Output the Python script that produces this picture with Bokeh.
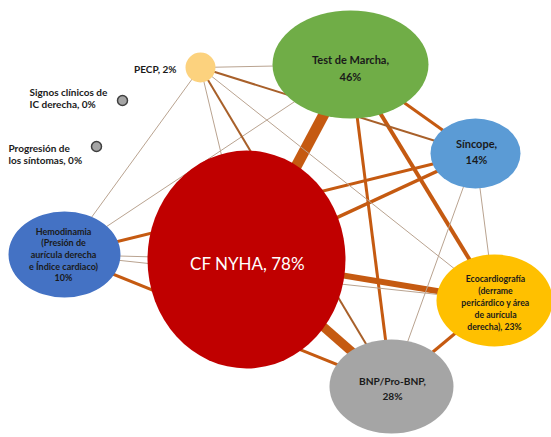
from bokeh.plotting import figure
from bokeh.models import Range1d, ColumnDataSource
from bokeh.embed import file_html
from bokeh.resources import INLINE
from bokeh.core.properties import value

# ---------------- data ----------------
node_names = ["CF NYHA", "Test de Marcha", "Síncope", "Ecocardiografía",
              "BNP/Pro-BNP", "Hemodinamia", "PECP", "Signos clínicos", "Progresión"]
node_pct = [78, 46, 14, 23, 28, 10, 2, 0, 0]
node_label_lines = [
    ["CF NYHA, 78%"],
    ["Test de Marcha,", "46%"],
    ["Síncope,", "14%"],
    ["Ecocardiografía", "(derrame", "pericárdico y área", "de aurícula", "derecha),  23%"],
    ["BNP/Pro-BNP,", "28%"],
    ["Hemodinamia", "(Presión de", "aurícula derecha", "e Índice cardiaco)", "10%"],
    ["PECP, 2%"],
    ["Signos clínicos de", "IC derecha, 0%"],
    ["Progresión de", "los síntomas, 0%"],
]
# edges: source, target, strength
edge_src = ["CF NYHA", "CF NYHA", "CF NYHA", "CF NYHA", "CF NYHA", "CF NYHA",
            "Test de Marcha", "Test de Marcha", "Test de Marcha", "Test de Marcha", "Test de Marcha",
            "Síncope", "Síncope", "Síncope", "Síncope",
            "Ecocardiografía", "Ecocardiografía", "Ecocardiografía",
            "BNP/Pro-BNP", "BNP/Pro-BNP", "Hemodinamia"]
edge_dst = ["Test de Marcha", "BNP/Pro-BNP", "Ecocardiografía", "Síncope", "Hemodinamia", "PECP",
            "Síncope", "Ecocardiografía", "BNP/Pro-BNP", "Hemodinamia", "PECP",
            "Ecocardiografía", "BNP/Pro-BNP", "Hemodinamia", "PECP",
            "BNP/Pro-BNP", "PECP", "Hemodinamia",
            "Hemodinamia", "PECP", "PECP"]
edge_strength = [11, 9, 6, 3.5, 1, 1,
                 3, 4, 3, 1, 1,
                 1, 1, 3, 2,
                 3, 1, 1,
                 3, 2, 1]

# ---------------- layout / style (not data) ----------------
pos_x = [246, 350, 475, 494, 391, 64, 200, 122, 96]
pos_y = [259, 64, 153, 300, 386, 254, 67, 100, 146]
half_w = [99, 78, 45, 58, 62, 56, 15, 5, 5]
half_h = [109, 54, 35, 46, 47, 43, 15, 5, 5]
fills = ["#c00000", "#70ad47", "#5b9bd5", "#ffc000", "#a5a5a5", "#4472c4",
         "#fcd27e", "#a5a5a5", "#a5a5a5"]
outlines = [None, None, None, None, None, None, None, "#404040", "#404040"]
text_col = ["#ffffff", "#1a1a1a", "#1a1a1a", "#1a1a1a", "#1a1a1a", "#1a1a1a",
            "#1a1a1a", "#1a1a1a", "#1a1a1a"]
text_size = [17, 11, 11, 8.7, 10.2, 9, 10, 10, 10]
line_gap = [0, 17, 16, 12, 15, 11.7, 0, 12, 12]
label_x = [247, 350, 476, 495, 392, 63, 176, 29, 8]
label_y = [263, 67, 151, 302, 388, 254, 68, 97, 153]
label_align = ["center"] * 6 + ["right", "left", "left"]
label_weight = ["normal", "bold", "bold", "bold", "bold", "bold", "bold", "bold", "bold"]

idx = {n: i for i, n in enumerate(node_names)}

W, H = 551, 437
p = figure(width=W, height=H, output_backend="svg", toolbar_location=None,
           x_range=Range1d(0, W), y_range=Range1d(H, 0),
           min_border=0, background_fill_color="white", border_fill_color="white")
p.axis.visible = False
p.grid.visible = False
p.outline_line_color = None

# edges
ex, ey, ew, ec = [], [], [], []
for s, d, w in zip(edge_src, edge_dst, edge_strength):
    a, b = idx[s], idx[d]
    ex.append([pos_x[a], pos_x[b]])
    ey.append([pos_y[a], pos_y[b]])
    ew.append(w)
    if w <= 1:
        ec.append("#b9a390")
    elif w <= 2:
        ec.append("#a8602a")
    else:
        ec.append("#c55a11")
p.multi_line(xs="xs", ys="ys", line_width="w", line_color="c",
             source=ColumnDataSource(dict(xs=ex, ys=ey, w=ew, c=ec)))

# nodes
node_src = ColumnDataSource(dict(
    x=pos_x, y=pos_y, w=[2 * v for v in half_w], h=[2 * v for v in half_h],
    fill=fills, line=[o if o else f for o, f in zip(outlines, fills)],
    lw=[1.5 if o else 0 for o in outlines]))
p.ellipse(x="x", y="y", width="w", height="h", fill_color="fill",
          line_color="line", line_width="lw", source=node_src)

# labels
for i, lines in enumerate(node_label_lines):
    n = len(lines)
    gap = line_gap[i]
    ys = [label_y[i] + (k - (n - 1) / 2) * gap for k in range(n)]
    p.text(x=[label_x[i]] * n, y=ys, text=lines,
           text_font=value("Lato"), text_font_size=f"{text_size[i]}px",
           text_font_style=label_weight[i], text_color=text_col[i],
           text_align=label_align[i], text_baseline="middle")

open("out.html", "w").write(file_html(p, INLINE))
